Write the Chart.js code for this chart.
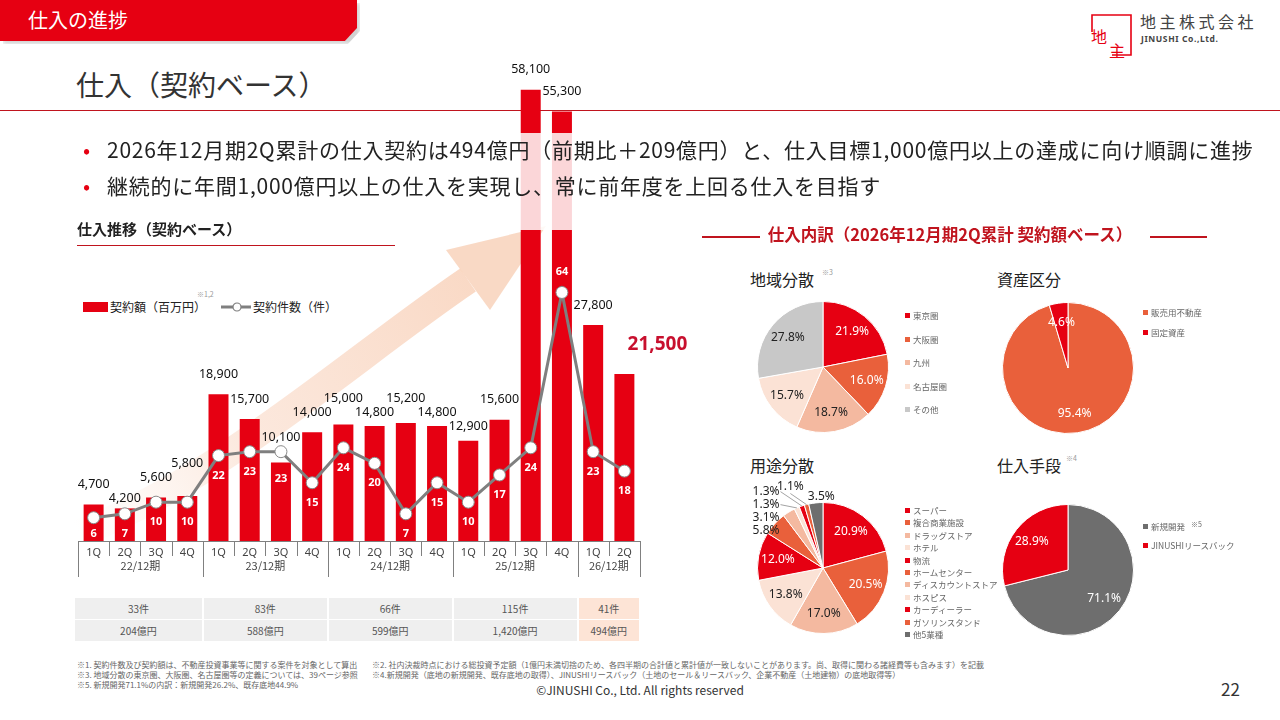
<!DOCTYPE html>
<html lang="ja">
<head>
<meta charset="UTF-8">
<title>仕入の進捗</title>
<style>
  body {
    margin: 0;
    width: 1280px;
    height: 720px;
    position: relative;
    overflow: hidden;
    background: #fff;
    font-family: 'Noto Sans CJK JP', 'Noto Sans', sans-serif;
    color: #222;
  }
  .abs { position: absolute; white-space: nowrap; }

  /* header tab */
  .tab {
    left: 0; top: 0; width: 357px; height: 41px;
    background: #e60012;
    clip-path: polygon(0 0, 100% 0, 100% 68%, 96.6% 100%, 0 100%);
  }
  .tab-shadow {
    left: 3px; top: 3px; width: 357px; height: 41px;
    background: rgba(0,0,0,0.18);
    filter: blur(2px);
    clip-path: polygon(0 0, 100% 0, 100% 68%, 96.6% 100%, 0 100%);
  }
  .tab-text { left: 28px; top: 5px; color: #fff; font-size: 20px; line-height: 30px; }

  .title { left: 76px; top: 64px; font-size: 28px; line-height: 40px; color: #333; }
  .rule { left: 0; top: 110px; width: 1280px; height: 1px; background: #c0141e; }

  .fade { left: 0; top: 133px; width: 1280px; height: 97px; background: rgba(255,255,255,0.84); z-index: 2; }
  .bullets { left: 80px; top: 131px; z-index: 3; font-size: 21px; letter-spacing: 0.75px; line-height: 36px; }
  .bullets div::before { content: '•'; color: #e60012; display: inline-block; width: 24px; padding-left: 3px; }

  .sub { left: 77px; top: 218px; font-size: 15px; font-weight: bold; line-height: 22px; z-index: 3; }
  .sub-rule { left: 77px; top: 245px; width: 318px; height: 1px; background: #c0141e; z-index: 3; }

  .mix-title { left: 700px; top: 222px; width: 508px; text-align: center; font-size: 16.5px; font-weight: bold; color: #c0141e; line-height: 24px; z-index: 3; }
  .mix-line { top: 236px; height: 2px; background: #c0141e; z-index: 3; }

  #mainChart { position: absolute; left: 70px; top: 55px; z-index: 1; }
  #arrow { position: absolute; left: 0; top: 0; z-index: 0; }

  .legend-txt { font-size: 12px; line-height: 14px; color: #222; }
  .note { font-size: 7px; color: #999; }

  .cell { position: absolute; height: 21px; line-height: 21px; text-align: center; font-size: 10px; color: #555; background: #efefef; }
  .cell.now { background: #fde4d6; }

  .pie { position: absolute; z-index: 1; }
  .pie-title { font-size: 16px; line-height: 20px; color: #222; }
  .pie-legend { position: absolute; font-size: 8.5px; color: #666; line-height: 10px; z-index: 2; }
  .pie-legend span.sq { display: inline-block; width: 5px; height: 5px; margin-right: 3px; vertical-align: 1px; }

  .foot { font-size: 8px; line-height: 10px; color: #666; }
</style>
</head>
<body>

<svg id="arrow" width="1280" height="720">
  <defs>
    <linearGradient id="arrowFill" gradientUnits="userSpaceOnUse" x1="80" y1="535" x2="480" y2="280">
      <stop offset="0" stop-color="#fbe2d2" stop-opacity="0"/>
      <stop offset="0.4" stop-color="#f9d6c2" stop-opacity="0.55"/>
      <stop offset="1" stop-color="#f8cfb6" stop-opacity="0.8"/>
    </linearGradient>
  </defs>
  <path d="M75 535 C 220 480, 350 360, 468 280" fill="none" stroke="url(#arrowFill)" stroke-width="28"/>
  <polygon points="446,250 490,310 546,226" fill="#f8cfb6" fill-opacity="0.8"/>
</svg>

<div class="abs tab-shadow"></div>
<div class="abs tab"></div>
<div class="abs tab-text">仕入の進捗</div>

<svg class="abs" style="left:1088px;top:12px" width="48" height="46">
  <path d="M4 20 V3 H43 V43 H24" fill="none" stroke="#e60012" stroke-width="1.6"/>
  <text x="3" y="31" font-size="16" fill="#e60012" font-family="Noto Sans CJK JP">地</text>
  <text x="21" y="45" font-size="16" fill="#e60012" font-family="Noto Sans CJK JP">主</text>
</svg>
<div class="abs" style="left:1140px;top:10px;font-size:16px;letter-spacing:3.5px;color:#444;line-height:22px">地主株式会社</div>
<div class="abs" style="left:1141px;top:33px;font-size:8.5px;font-weight:bold;color:#444;letter-spacing:0.6px;font-family:'Noto Sans',sans-serif">JINUSHI Co.,Ltd.</div>

<div class="abs title">仕入（契約ベース）</div>
<div class="abs rule"></div>

<div class="abs fade"></div>
<div class="abs bullets">
  <div>2026年12月期2Q累計の仕入契約は494億円（前期比＋209億円）と、仕入目標1,000億円以上の達成に向け順調に進捗</div>
  <div>継続的に年間1,000億円以上の仕入を実現し、常に前年度を上回る仕入を目指す</div>
</div>

<div class="abs sub">仕入推移（契約ベース）</div>
<div class="abs sub-rule"></div>

<canvas id="mainChart" width="640" height="530"></canvas>

<!-- legend of the trend chart -->
<div class="abs" style="left:83px;top:302px;width:25px;height:10px;background:#e60012"></div>
<div class="abs legend-txt" style="left:110px;top:300px">契約額（百万円）</div>
<div class="abs note" style="left:197px;top:289px">※1,2</div>
<svg class="abs" style="left:221px;top:301px" width="30" height="12">
  <line x1="0" y1="6" x2="30" y2="6" stroke="#7f7f7f" stroke-width="3"/>
  <circle cx="16" cy="6" r="4" fill="#fff" stroke="#7f7f7f" stroke-width="1.2"/>
</svg>
<div class="abs legend-txt" style="left:253px;top:300px">契約件数（件）</div>

<div id="table"></div>

<!-- purchase breakdown -->
<div class="abs mix-line" style="left:702px;width:58px"></div>
<div class="abs mix-line" style="left:1150px;width:57px"></div>
<div class="abs mix-title" style="left:696px">仕入内訳（2026年12月期2Q累計 契約額ベース）</div>

<div class="abs pie-title" style="left:750px;top:269px">地域分散</div>
<div class="abs note" style="left:822px;top:267px">※3</div>
<div class="abs pie-title" style="left:997px;top:269px">資産区分</div>
<div class="abs pie-title" style="left:750px;top:455px">用途分散</div>
<div class="abs pie-title" style="left:997px;top:455px">仕入手段</div>
<div class="abs note" style="left:1066px;top:453px">※4</div>

<canvas id="pieRegion" class="pie" width="200" height="200" style="left:723px;top:267px"></canvas>
<canvas id="pieAsset" class="pie" width="200" height="200" style="left:968px;top:268px"></canvas>
<canvas id="pieUse" class="pie" width="200" height="200" style="left:723px;top:468px"></canvas>
<canvas id="pieMethod" class="pie" width="200" height="200" style="left:968px;top:470px"></canvas>

<div id="legRegion" class="pie-legend" style="left:905px;top:310px"></div>
<div id="legAsset" class="pie-legend" style="left:1143px;top:307px"></div>
<div id="legUse" class="pie-legend" style="left:905px;top:505px"></div>
<div id="legMethod" class="pie-legend" style="left:1143px;top:519px"></div>

<!-- footnotes -->
<div class="abs foot" style="left:77px;top:660px">※1. 契約件数及び契約額は、不動産投資事業等に関する案件を対象として算出<br>※3. 地域分散の東京圏、大阪圏、名古屋圏等の定義については、39ページ参照<br>※5. 新規開発71.1%の内訳：新規開発26.2%、既存底地44.9%</div>
<div class="abs foot" style="left:372px;top:660px">※2. 社内決裁時点における総投資予定額（1億円未満切捨のため、各四半期の合計値と累計値が一致しないことがあります。尚、取得に関わる諸経費等も含みます）を記載<br>※4.新規開発（底地の新規開発、既存底地の取得）、JINUSHIリースバック（土地のセール＆リースバック、企業不動産（土地建物）の底地取得等）</div>
<div class="abs" style="left:0;width:1280px;top:681px;text-align:center;font-size:12px;color:#333;line-height:18px">©JINUSHI Co., Ltd. All rights reserved</div>
<div class="abs" style="left:1221px;top:678px;font-size:17px;color:#333;line-height:22px">22</div>

<script src="https://cdn.jsdelivr.net/npm/chart.js"></script>
<script>
// ---- data ----
const quarters = ['1Q','2Q','3Q','4Q','1Q','2Q','3Q','4Q','1Q','2Q','3Q','4Q','1Q','2Q','3Q','4Q','1Q','2Q'];
const periods = ['22/12期','23/12期','24/12期','25/12期','26/12期'];
const periodQuarters = [4, 4, 4, 4, 2];
const amounts = [4700, 4200, 5600, 5800, 18900, 15700, 10100, 14000, 15000, 14800, 15200, 14800, 12900, 15600, 58100, 55300, 27800, 21500];
const counts = [6, 7, 10, 10, 22, 23, 23, 15, 24, 20, 7, 15, 10, 17, 24, 64, 23, 18];
const yearCounts = [33, 83, 66, 115, 41];
const yearAmounts = [204, 588, 599, 1420, 494];

const regionLabels = ['東京圏', '大阪圏', '九州', '名古屋圏', 'その他'];
const regionShares = [21.9, 16.0, 18.7, 15.7, 27.8];
const assetLabels = ['販売用不動産', '固定資産'];
const assetShares = [95.4, 4.6];
const useLabels = ['スーパー', '複合商業施設', 'ドラッグストア', 'ホテル', '物流', 'ホームセンター', 'ディスカウントストア', 'ホスピス', 'カーディーラー', 'ガソリンスタンド', '他5業種'];
const useShares = [20.9, 20.5, 17.0, 13.8, 12.0, 5.8, 3.1, 1.3, 1.3, 1.1, 3.5];
const methodLabels = ['新規開発', 'JINUSHIリースバック'];
const methodShares = [71.1, 28.9];

// ---- colours ----
const RED = '#e60012', ORANGE = '#e9603b', PEACH = '#f4b9a0', LIGHT = '#fbe2d5';
const GRAY = '#c8c8c8', DARKGRAY = '#6e6e6e';
const regionColors = [RED, ORANGE, PEACH, LIGHT, GRAY];
const assetColors = [ORANGE, RED];
const useColors = [RED, ORANGE, PEACH, LIGHT, RED, ORANGE, PEACH, LIGHT, RED, ORANGE, DARKGRAY];
const methodColors = [DARKGRAY, RED];

const NUM_FONT = '"Noto Sans", sans-serif';

function isDark(hex) {
  const n = parseInt(hex.slice(1), 16);
  const r = n >> 16, g = (n >> 8) & 255, b = n & 255;
  return 0.299 * r + 0.587 * g + 0.114 * b < 160;
}

// quarter / period axis drawn under the bars
const periodAxis = {
  id: 'periodAxis',
  afterDraw(chart) {
    const { ctx, chartArea } = chart;
    const xs = chart.scales.x;
    const half = (xs.getPixelForValue(1) - xs.getPixelForValue(0)) / 2;
    const base = chartArea.bottom;
    ctx.save();
    ctx.strokeStyle = '#808080';
    ctx.lineWidth = 1;
    ctx.beginPath();
    ctx.moveTo(chartArea.left, base + 0.5);
    ctx.lineTo(chartArea.right, base + 0.5);
    ctx.stroke();

    ctx.fillStyle = '#444';
    ctx.font = '11px ' + NUM_FONT;
    ctx.textAlign = 'center';
    ctx.textBaseline = 'middle';
    quarters.forEach((q, i) => {
      ctx.fillText(q, xs.getPixelForValue(i), base + 12);
    });

    const groupEdges = new Set([0]);
    let idx = 0;
    periods.forEach((p, g) => {
      const x0 = xs.getPixelForValue(idx) - half;
      const x1 = xs.getPixelForValue(idx + periodQuarters[g] - 1) + half;
      ctx.font = '11px "Noto Sans CJK JP", sans-serif';
      ctx.fillText(p, (x0 + x1) / 2, base + 25);
      idx += periodQuarters[g];
      groupEdges.add(idx);
    });

    for (let i = 0; i <= quarters.length; i++) {
      const x = Math.round(xs.getPixelForValue(Math.min(i, quarters.length - 1)) + (i === quarters.length ? half : -half)) + 0.5;
      ctx.beginPath();
      ctx.moveTo(x, base);
      ctx.lineTo(x, base + (groupEdges.has(i) ? 36 : 15));
      ctx.stroke();
    }
    ctx.restore();
  }
};

// value labels on bars and line points
const valueLabels = {
  id: 'valueLabels',
  afterDatasetsDraw(chart) {
    const { ctx, chartArea } = chart;
    const linePts = chart.getDatasetMeta(0).data;
    const bars = chart.getDatasetMeta(1).data;
    const last = bars.length - 1;
    const peak = Math.max(...counts);
    ctx.save();
    ctx.textAlign = 'center';
    ctx.textBaseline = 'middle';
    let prev = null;
    bars.forEach((bar, i) => {
      const label = amounts[i].toLocaleString('en-US');
      if (i === last) {
        ctx.font = 'bold 19px ' + NUM_FONT;
        ctx.fillStyle = '#c8102e';
        ctx.fillText(label, bar.x + 33, bar.y - 29);
        return;
      }
      ctx.font = '12.5px ' + NUM_FONT;
      ctx.fillStyle = '#111';
      const w = ctx.measureText(label).width;
      // sit above the bar and clear of the line marker
      let y = Math.min(bar.y - 20, linePts[i].y - 14);
      // stagger against the previous label when they would collide
      if (prev && Math.abs(bar.x - prev.x) < (w + prev.w) / 2 + 2 && Math.abs(y - prev.y) < 13) {
        y = prev.y + 14 <= bar.y - 7 ? prev.y + 14 : prev.y - 14;
      }
      ctx.fillText(label, bar.x, y);
      prev = { x: bar.x, y: y, w: w };
    });

    ctx.font = 'bold 11px ' + NUM_FONT;
    ctx.fillStyle = '#fff';
    linePts.forEach((pt, i) => {
      let y;
      if (counts[i] === peak) y = pt.y - 21;
      else y = Math.min(Math.max(pt.y + 20, bars[i].y + 16), chartArea.bottom - 7);
      ctx.fillText(String(counts[i]), pt.x, y);
    });
    ctx.restore();
  }
};

const mainChart = new Chart(document.getElementById('mainChart'), {
  data: {
    labels: quarters,
    datasets: [
      {
        type: 'line',
        data: counts,
        yAxisID: 'y2',
        borderColor: '#7f7f7f',
        borderWidth: 3,
        pointRadius: 6,
        pointBackgroundColor: '#fff',
        pointBorderColor: '#8a8a8a',
        pointBorderWidth: 1,
        order: 0
      },
      {
        type: 'bar',
        data: amounts,
        yAxisID: 'y',
        backgroundColor: RED,
        categoryPercentage: 1,
        barPercentage: 0.64,
        order: 1
      }
    ]
  },
  options: {
    responsive: false,
    animation: false,
    layout: { padding: { left: 8, right: 70, top: 20, bottom: 44 } },
    plugins: { legend: { display: false }, tooltip: { enabled: false } },
    scales: {
      x: { display: false },
      y: { display: false, min: 0, max: 60000 },
      y2: { display: false, min: 0, max: 120 }
    }
  },
  plugins: [periodAxis, valueLabels]
});

// yearly totals table, aligned with the period groups
(function buildTable() {
  const xs = mainChart.scales.x;
  const half = (xs.getPixelForValue(1) - xs.getPixelForValue(0)) / 2;
  const offset = mainChart.canvas.offsetLeft;
  const table = document.getElementById('table');
  let idx = 0;
  periods.forEach((p, g) => {
    const x0 = offset + xs.getPixelForValue(idx) - half;
    const x1 = offset + xs.getPixelForValue(idx + periodQuarters[g] - 1) + half;
    const rows = [yearCounts[g] + '件', yearAmounts[g].toLocaleString('en-US') + '億円'];
    rows.forEach((txt, r) => {
      const c = document.createElement('div');
      c.className = 'cell' + (g === periods.length - 1 ? ' now' : '');
      c.style.left = (x0 + (g === 0 ? -3 : 1)) + 'px';
      c.style.width = (x1 - x0 - (g === 0 ? -2 : 2)) + 'px';
      c.style.top = (598 + r * 22) + 'px';
      c.textContent = txt;
      table.appendChild(c);
    });
    idx += periodQuarters[g];
  });
})();

// percentage labels for the pies
const pieLabels = {
  id: 'pieLabels',
  afterDatasetsDraw(chart, args, opts) {
    const { ctx } = chart;
    const ds = chart.data.datasets[0];
    const arcs = chart.getDatasetMeta(0).data;
    const small = opts.outsideBelow || 0;
    ctx.save();
    ctx.font = '12px ' + NUM_FONT;
    ctx.textBaseline = 'middle';
    ctx.strokeStyle = '#8c8c8c';
    ctx.lineWidth = 0.8;
    let columnY = null;
    const topRow = [];
    let cx = 0, cy = 0, r = 0;
    arcs.forEach((arc, i) => {
      const p = arc.getProps(['x', 'y', 'startAngle', 'endAngle', 'outerRadius'], true);
      cx = p.x; cy = p.y; r = p.outerRadius;
      const mid = (p.startAngle + p.endAngle) / 2;
      const text = ds.data[i].toFixed(1) + '%';
      if (ds.data[i] >= small) {
        ctx.textAlign = 'center';
        ctx.fillStyle = isDark(ds.backgroundColor[i]) ? '#fff' : '#222';
        ctx.fillText(text, cx + Math.cos(mid) * r * 0.7, cy + Math.sin(mid) * r * 0.7);
        return;
      }
      const ex = cx + Math.cos(mid) * r, ey = cy + Math.sin(mid) * r;
      if (ex < cx - r * 0.28) {
        columnY = columnY === null ? ey + 7 : columnY - 13;
        const tx = cx - r + 22;
        ctx.textAlign = 'right';
        ctx.fillStyle = '#222';
        ctx.fillText(text, tx, columnY);
        if (Math.hypot(ex - tx, ey - columnY) > 11) {
          ctx.beginPath();
          ctx.moveTo(tx + 1, columnY);
          ctx.lineTo(ex, ey);
          ctx.stroke();
        }
      } else {
        topRow.push({ text, ex, ey });
      }
    });
    let right = null, ty = null;
    for (let k = topRow.length - 1; k >= 0; k--) {
      const t = topRow[k];
      const w = ctx.measureText(t.text).width;
      let lx;
      if (right === null) { lx = t.ex - 8; ty = cy - r - 6; }
      else { lx = right - 4 - w; ty -= 10; }
      ctx.textAlign = 'left';
      ctx.fillStyle = '#222';
      ctx.fillText(t.text, lx, ty);
      const ax = lx + w / 2, ay = ty + 7;
      if (Math.hypot(t.ex - ax, t.ey - ay) > 11) {
        ctx.beginPath();
        ctx.moveTo(ax, ay);
        ctx.lineTo(t.ex, t.ey);
        ctx.stroke();
      }
      right = lx;
    }
    ctx.restore();
  }
};

function makePie(id, labels, values, colors, outsideBelow) {
  return new Chart(document.getElementById(id), {
    type: 'pie',
    data: { labels: labels, datasets: [{ data: values, backgroundColor: colors, borderColor: '#fff', borderWidth: 1 }] },
    options: {
      responsive: false,
      animation: false,
      layout: { padding: 34 },
      plugins: { legend: { display: false }, tooltip: { enabled: false }, pieLabels: { outsideBelow: outsideBelow } }
    },
    plugins: [pieLabels]
  });
}

function makeLegend(id, labels, colors, gap, notes) {
  const box = document.getElementById(id);
  labels.forEach((name, i) => {
    const row = document.createElement('div');
    row.style.height = gap + 'px';
    row.innerHTML = '<span class="sq" style="background:' + colors[i] + '"></span>' + name +
      (notes && notes[i] ? '<span style="font-size:7px;margin-left:6px;vertical-align:3px">' + notes[i] + '</span>' : '');
    box.appendChild(row);
  });
}

makePie('pieRegion', regionLabels, regionShares, regionColors, 0);
makePie('pieAsset', assetLabels, assetShares, assetColors, 0);
makePie('pieUse', useLabels, useShares, useColors, 6);
makePie('pieMethod', methodLabels, methodShares, methodColors, 0);

makeLegend('legRegion', regionLabels, regionColors, 23.5);
makeLegend('legAsset', assetLabels, assetColors, 19.5);
makeLegend('legUse', useLabels, useColors, 12.4);
makeLegend('legMethod', methodLabels, methodColors, 21, ['※5', '']);
</script>
</body>
</html>
